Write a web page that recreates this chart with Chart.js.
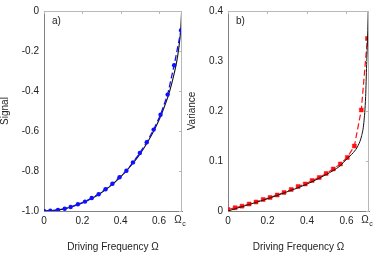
<!DOCTYPE html>
<html><head><meta charset="utf-8">
<script src="https://cdn.jsdelivr.net/npm/chart.js@4"></script>
<style>
body{margin:0;background:#fff;}
#wrap{position:relative;width:374px;height:253px;}
canvas{position:absolute;top:0;}
</style></head><body>
<div id="wrap">
<canvas id="cA" width="187" height="253" style="left:0"></canvas>
<canvas id="cB" width="187" height="253" style="left:187px"></canvas>
</div>
<script>
// panel a) signal
const omegaA = [0, .033, .073, .108, .139, .177, .214, .249, .285, .321, .357, .394, .430, .464, .500, .536, .572, .608, .645, .679, .715];
const signalPts = [-1.0, -.998, -.995, -.989, -.98, -.966, -.953, -.935, -.916, -.891, -.864, -.831, -.799, -.757, -.710, -.656, -.593, -.519, -.418, -.271, -.096];
const omegaACurve = [0, .049, .098, .147, .197, .246, .295, .344, .393, .442, .492, .541, .590, .619, .649, .668, .688, .698, .708, .7135, .718];
const signalCurve = [-1, -.9976, -.9905, -.9786, -.9615, -.9392, -.9112, -.8769, -.8355, -.7861, -.7268, -.6551, -.5663, -.5011, -.422, -.3571, -.2748, -.2209, -.148, -.0906, 0];
const xMaxA = 0.72;
const yTicksA = [0, -0.2, -0.4, -0.6, -0.8, -1.0];

// panel b) variance
const omegaB = [0, .036, .071, .107, .142, .178, .213, .249, .284, .320, .355, .391, .426, .462, .497, .533, .569, .604, .640, .675, .706];
const variancePts = [.003, .0065, .0097, .014, .018, .023, .027, .032, .037, .043, .049, .054, .061, .067, .075, .084, .094, .107, .130, .202, .345];
const omegaBCurve = [0, .049, .099, .148, .197, .247, .296, .345, .395, .444, .493, .533, .567, .601, .635, .659, .677, .688, .697, .702, .707, .710];
const varianceCurve = [0, .006, .012, .018, .024, .031, .038, .045, .053, .062, .072, .081, .09, .104, .117, .131, .151, .177, .229, .293, .35, .4];
const xMaxB = 0.714;
const yTicksB = [0, 0.1, 0.2, 0.3, 0.4];

const xTicks = [0, 0.2, 0.4, 0.6];
const FONT = '"Liberation Sans", Arial, sans-serif';
const TXT = '#222';

function pairs(xs, ys) { return xs.map((x, i) => ({ x: x, y: ys[i] })); }

const framePlugin = {
    id: 'frame',
    afterDraw(chart, args, opts) {
        const ctx = chart.ctx;
        const a = chart.chartArea;
        const sx = chart.scales.x, sy = chart.scales.y;
        ctx.save();
        ctx.strokeStyle = '#b8b8b8';
        ctx.lineWidth = 1;
        ctx.beginPath();
        ctx.moveTo(a.left, a.top + 0.5); ctx.lineTo(a.right, a.top + 0.5);
        ctx.moveTo(a.right - 0.5, a.top); ctx.lineTo(a.right - 0.5, a.bottom);
        xTicks.forEach(v => {
            const px = Math.round(sx.getPixelForValue(v)) + 0.5;
            ctx.moveTo(px, a.top); ctx.lineTo(px, a.top + 3);
        });
        opts.yTicks.forEach(v => {
            const py = Math.round(sy.getPixelForValue(v)) + 0.5;
            ctx.moveTo(a.right, py); ctx.lineTo(a.right - 3, py);
        });
        ctx.stroke();
        // Omega_c tick label
        const xc = sx.getPixelForValue(opts.xMax);
        ctx.fillStyle = TXT;
        ctx.textBaseline = 'top';
        ctx.textAlign = 'center';
        ctx.font = '10px ' + FONT;
        ctx.fillText('Ω', xc - 4, a.bottom + 4);
        ctx.font = '7px ' + FONT;
        ctx.fillText('c', xc + 2, a.bottom + 10);
        // panel label
        ctx.font = '10px ' + FONT;
        ctx.textAlign = 'left';
        ctx.textBaseline = 'middle';
        ctx.fillText(opts.tag, a.left + 8, 21);
        ctx.restore();
    }
};

function makeChart(id, cfg) {
    return new Chart(document.getElementById(id), {
        type: 'scatter',
        data: {
            datasets: cfg.datasets
        },
        options: {
            responsive: false,
            animation: false,
            devicePixelRatio: 1,
            layout: { padding: { top: 5, right: 5, left: 0, bottom: 0 } },
            plugins: {
                legend: { display: false },
                tooltip: { enabled: false },
                frame: { yTicks: cfg.yTicks, xMax: cfg.xMax, tag: cfg.tag }
            },
            scales: {
                x: {
                    type: 'linear',
                    min: 0,
                    max: cfg.xMax,
                    afterBuildTicks: s => { s.ticks = xTicks.concat([cfg.xMax]).map(v => ({ value: v })); },
                    afterFit: s => { s.height = 42; },
                    grid: { display: false, drawTicks: false },
                    border: { display: true, color: '#808080', width: 1 },
                    ticks: {
                        padding: 4,
                        color: TXT,
                        font: { family: FONT, size: 10 },
                        maxRotation: 0,
                        autoSkip: false,
                        callback: v => v > 0.65 ? '' : String(v)
                    },
                    title: {
                        display: true,
                        text: 'Driving Frequency Ω',
                        color: TXT,
                        font: { family: FONT, size: 10 },
                        padding: { top: 0, bottom: 0 }
                    }
                },
                y: {
                    type: 'linear',
                    min: cfg.yMin,
                    max: cfg.yMax,
                    afterBuildTicks: s => { s.ticks = cfg.yTicks.map(v => ({ value: v })); },
                    afterFit: s => { s.width = cfg.yWidth; },
                    grid: { display: false, drawTicks: false },
                    border: { display: true, color: '#808080', width: 1 },
                    ticks: {
                        padding: 5,
                        color: TXT,
                        font: { family: FONT, size: 10 },
                        autoSkip: false,
                        callback: cfg.yLabel
                    },
                    title: {
                        display: true,
                        text: cfg.yTitle,
                        color: TXT,
                        font: { family: FONT, size: 10 },
                        padding: { top: -1, bottom: 0 }
                    }
                }
            }
        },
        plugins: [framePlugin]
    });
}

makeChart('cA', {
    tag: 'a)',
    xMax: xMaxA,
    yMin: -1, yMax: 0,
    yTicks: yTicksA,
    yWidth: 44,
    yTitle: 'Signal',
    yLabel: v => v === -1 ? '-1.0' : (v === 0 ? '0' : v.toFixed(1)),
    datasets: [
        {
            data: pairs(omegaA, signalPts),
            showLine: true,
            borderColor: '#1010ff',
            backgroundColor: '#1010ff',
            pointBackgroundColor: '#1010ff',
            borderWidth: 1.3,
            borderDash: [6, 3],
            pointRadius: 2.2,
            pointBorderWidth: 0
        },
        {
            data: pairs(omegaACurve, signalCurve),
            showLine: true,
            borderColor: '#111',
            borderWidth: 1.1,
            pointRadius: 0,
            cubicInterpolationMode: 'monotone'
        }
    ]
});

makeChart('cB', {
    tag: 'b)',
    xMax: xMaxB,
    yMin: 0, yMax: 0.4,
    yTicks: yTicksB,
    yWidth: 41,
    yTitle: 'Variance',
    yLabel: v => v === 0 ? '0' : v.toFixed(1),
    datasets: [
        {
            data: pairs(omegaBCurve, varianceCurve),
            showLine: true,
            borderColor: '#111',
            borderWidth: 1,
            pointRadius: 0,
            cubicInterpolationMode: 'monotone'
        },
        {
            data: pairs(omegaB, variancePts),
            showLine: true,
            borderColor: '#ff1010',
            backgroundColor: '#ff1010',
            pointBackgroundColor: '#ff1010',
            pointBorderColor: '#ff1010',
            borderWidth: 1.2,
            borderDash: [6, 3],
            pointStyle: 'rect',
            pointRadius: 2.8,
            pointBorderWidth: 0.5
        }
    ]
});
</script>
</body></html>
